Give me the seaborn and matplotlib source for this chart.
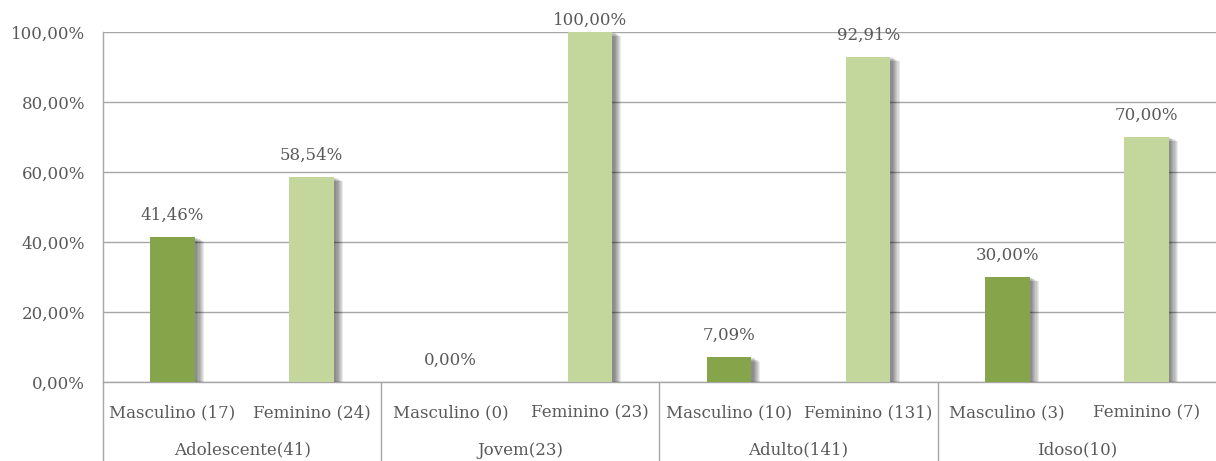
import matplotlib
matplotlib.use("Agg")
import matplotlib.pyplot as plt
import matplotlib.patheffects as pe
import matplotlib.transforms as mtransforms
import pandas as pd
import seaborn as sns

# Data
groups = ["Adolescente(41)", "Jovem(23)", "Adulto(141)", "Idoso(10)"]
genders = ["Masculino", "Feminino"]
counts = [17, 24, 0, 23, 10, 131, 3, 7]
percents = [41.46, 58.54, 0.00, 100.00, 7.09, 92.91, 30.00, 70.00]
y_ticks = [0, 20, 40, 60, 80, 100]

colors = {"Masculino": "#86A44A", "Feminino": "#C3D69B"}
text_color = "#595959"
line_color = "#a6a6a6"
fs = 12

rows = []
for i, (c, p) in enumerate(zip(counts, percents)):
    g = genders[i % 2]
    rows.append({"pos": i, "label": f"{g} ({c})", "gender": g, "pct": p,
                 "group": groups[i // 2]})
df = pd.DataFrame(rows)

sns.set_theme(style="white")
plt.rcParams["font.family"] = ["DejaVu Serif"]

fig = plt.figure(figsize=(12.16, 4.61), dpi=100)
ax = fig.add_axes([0.0847, 0.1714, 0.9153, 0.7592])

sns.barplot(data=df, x="pos", y="pct", hue="gender", palette=colors,
            saturation=1, dodge=False, width=0.32, legend=False, ax=ax,
            zorder=3)

# soft drop shadow on the bars
shadow = []
for k in range(7, 0, -1):
    shadow.append(pe.SimplePatchShadow(offset=(k * 0.8 + 1, -k * 0.45),
                                       shadow_rgbFace="#000000", alpha=0.08))
shadow.append(pe.Normal())
for patch in ax.patches:
    patch.set_path_effects(shadow)
    patch.set_edgecolor("none")

ax.set_ylim(0, 100)
ax.set_xlim(-0.5, len(percents) - 0.5)
ax.set_yticks(y_ticks)
ax.set_yticklabels([f"{v:.2f}%".replace(".", ",") for v in y_ticks])
ax.yaxis.grid(True, color=line_color, linewidth=1, zorder=0)
ax.set_axisbelow(True)

ax.set_xticks(df["pos"])
ax.set_xticklabels(df["label"])
ax.tick_params(axis="both", length=0, labelsize=fs, labelcolor=text_color)
ax.tick_params(axis="x", pad=16)
ax.tick_params(axis="y", pad=13)
ax.set_xlabel("")
ax.set_ylabel("")

for s in ["top", "right"]:
    ax.spines[s].set_visible(False)
for s in ["left", "bottom"]:
    ax.spines[s].set_color(line_color)
    ax.spines[s].set_linewidth(1)

# value labels (kept inside the figure near the top of the scale)
for pos, p in zip(df["pos"], df["pct"]):
    dy = 9.5 if p < 97 else 2
    ax.annotate(f"{p:.2f}%".replace(".", ","), (pos, p), xytext=(0, dy),
                textcoords="offset points", ha="center", va="bottom",
                fontsize=fs, color=text_color)

# second-level category axis
trans = mtransforms.blended_transform_factory(ax.transData, ax.transAxes)
for gi, g in enumerate(groups):
    left = gi * 2 - 0.5
    ax.plot([left, left], [0, -0.23], transform=trans, color=line_color,
            linewidth=1, clip_on=False)
    ax.text(gi * 2 + 0.5, -0.195, g, transform=trans, ha="center", va="center",
            fontsize=fs, color=text_color)

fig.savefig("out.png", dpi=100, facecolor="white")
